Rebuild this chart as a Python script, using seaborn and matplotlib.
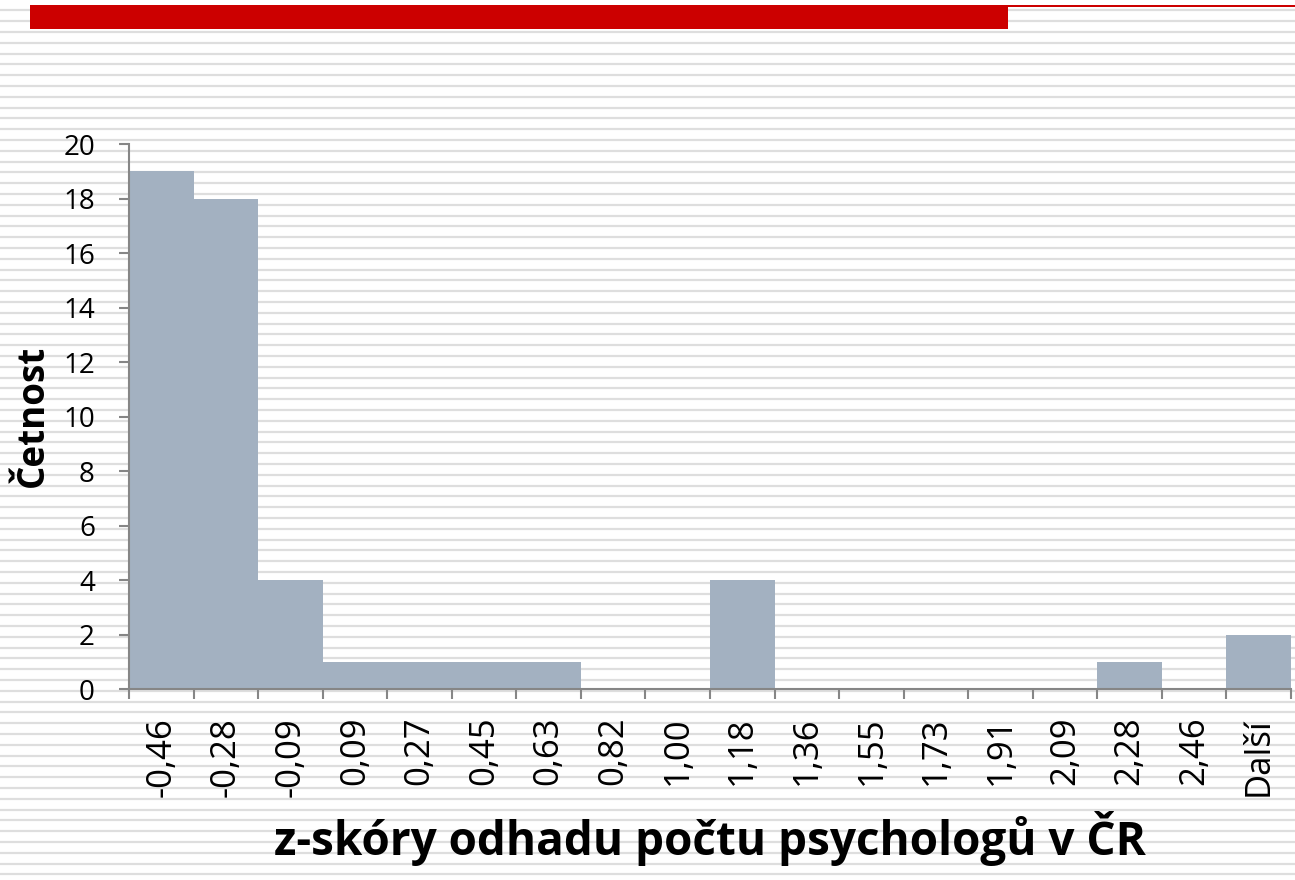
import numpy as np
import pandas as pd
import matplotlib
matplotlib.use("Agg")
import matplotlib.pyplot as plt
import seaborn as sns
from matplotlib.patches import Rectangle

# Data
bins = ['-0,46', '-0,28', '-0,09', '0,09', '0,27', '0,45', '0,63', '0,82', '1,00',
        '1,18', '1,36', '1,55', '1,73', '1,91', '2,09', '2,28', '2,46', 'Další']
counts = [19, 18, 4, 1, 1, 1, 1, 0, 0, 4, 0, 0, 0, 0, 0, 1, 0, 2]
y_ticks = [0, 2, 4, 6, 8, 10, 12, 14, 16, 18, 20]

df = pd.DataFrame({'bin': bins, 'count': counts})

sns.set_style("white")
plt.rcParams['font.family'] = ['Open Sans', 'DejaVu Sans']
plt.rcParams['text.color'] = 'black'
plt.rcParams['xtick.labelcolor'] = 'black'
plt.rcParams['ytick.labelcolor'] = 'black'

W, H = 1295, 880
fig = plt.figure(figsize=(W / 100, H / 100), dpi=100)
fig.patch.set_facecolor('white')

# striped slide background + red header bar
bg = fig.add_axes([0, 0, 1, 1], zorder=-1)
bg.set_xlim(0, W)
bg.set_ylim(H, 0)
bg.axis('off')
for yy in np.arange(10.5, H, 10.8):
    bg.axhline(yy, color='#DEDEDE', lw=1.6, zorder=1)
bg.add_patch(Rectangle((30, 5), 978, 24, color='#CC0000', lw=0, zorder=5))
bg.add_patch(Rectangle((1008, 5), 287, 2.2, color='#CC0000', lw=0, zorder=5))

ax = fig.add_axes([129 / W, 1 - 689 / H, (1291 - 129) / W, (689 - 144) / H])
ax.patch.set_alpha(0)
sns.barplot(data=df, x='bin', y='count', color='#A3B1C1', width=1.0,
            saturation=1, edgecolor='none', ax=ax)

ax.set_xlim(-0.5, len(bins) - 0.5)
ax.set_ylim(0, 20)
ax.set_yticks(y_ticks)
ax.set_yticklabels([str(v) for v in y_ticks], fontsize=20)
ax.set_xticks(np.arange(len(bins)))
ax.set_xticklabels(bins, rotation=90, fontsize=25)
ax.set_xticks(np.arange(len(bins) + 1) - 0.5, minor=True)
ax.tick_params(axis='x', which='major', bottom=True, length=0, pad=20)
ax.tick_params(axis='x', which='minor', bottom=True, length=7.5, width=1.5, color='#868686')
ax.tick_params(axis='y', left=True, length=7.5, width=1.5, color='#868686', pad=17)

for s in ['top', 'right']:
    ax.spines[s].set_visible(False)
for s in ['left', 'bottom']:
    ax.spines[s].set_color('#868686')
    ax.spines[s].set_linewidth(1.5)

ax.set_xlabel('')
ax.set_ylabel('')
fig.text(710 / W, 1 - 855 / H, 'z-skóry odhadu počtu psychologů v ČR',
         fontsize=33, fontweight='bold', ha='center', va='baseline', color='black')
fig.text(33 / W, 1 - 416 / H, 'Četnost', fontsize=26.5, fontweight='bold',
         rotation=90, ha='center', va='center', color='black')

fig.savefig('out.png', dpi=100)
